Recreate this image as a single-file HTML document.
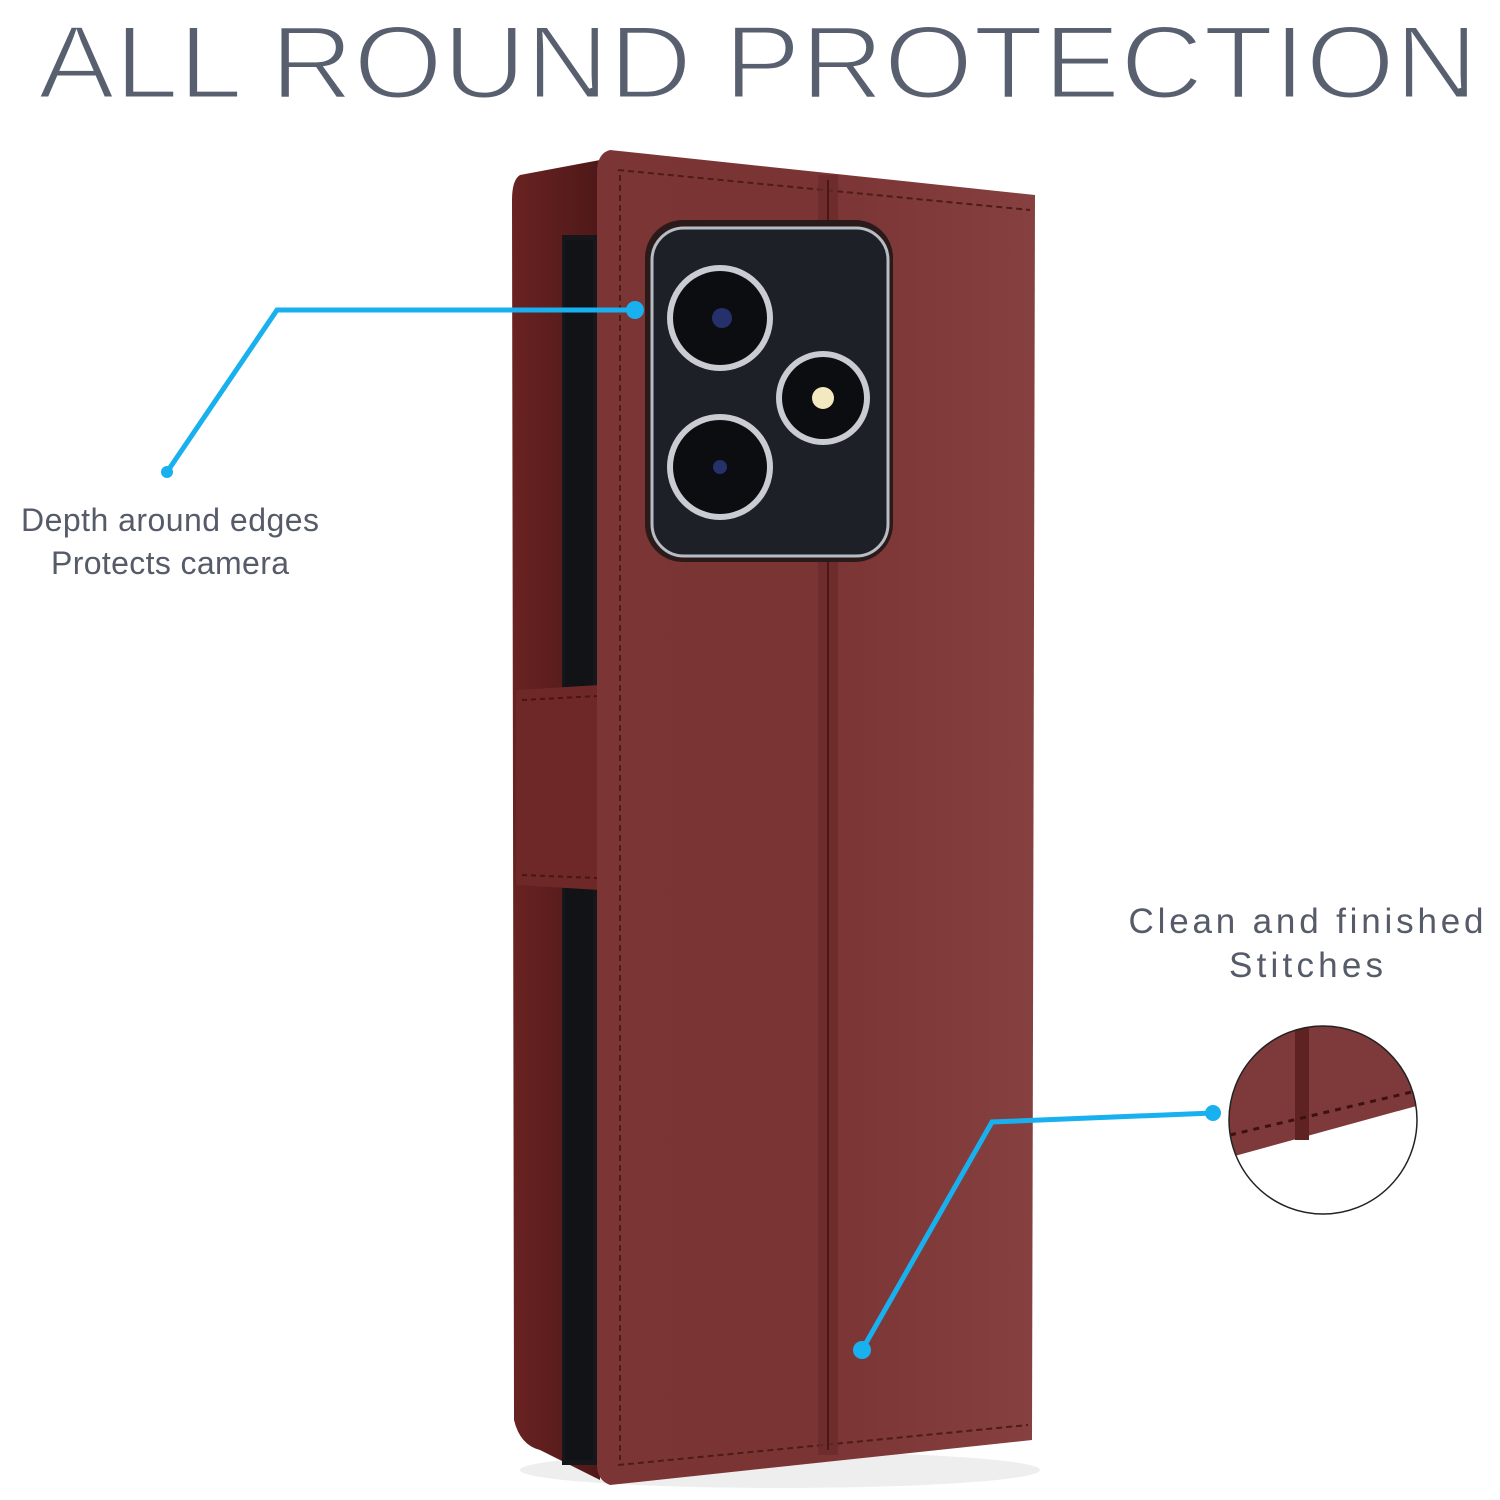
<!DOCTYPE html>
<html><head><meta charset="utf-8"><style>
html,body{margin:0;padding:0;background:#fff;}
svg{display:block}
</style></head><body>
<svg width="1500" height="1500" viewBox="0 0 1500 1500" xmlns="http://www.w3.org/2000/svg">
<defs>
<linearGradient id="cov" x1="0" x2="1" y1="0" y2="0">
<stop offset="0" stop-color="#7c3535"/><stop offset="0.5" stop-color="#7a3434"/><stop offset="1" stop-color="#864040"/>
</linearGradient>
<linearGradient id="spine" x1="0" x2="1">
<stop offset="0" stop-color="#6a2222"/><stop offset="1" stop-color="#4e1818"/>
</linearGradient>
<clipPath id="cc"><circle cx="1323" cy="1120" r="94"/></clipPath>
</defs>
<text x="38" y="98" font-family="Liberation Sans, sans-serif" font-size="104" fill="#585f6e" stroke="#fff" stroke-width="3" textLength="1440" lengthAdjust="spacingAndGlyphs">ALL ROUND PROTECTION</text>

<ellipse cx="780" cy="1470" rx="260" ry="18" fill="#eee"/>
<path d="M520 175 Q512 180 512 200 L514 1420 Q520 1445 540 1450 L600 1480 L600 160 Z" fill="url(#spine)"/>
<rect x="562" y="235" width="36" height="1230" fill="#15171b"/>
<rect x="565" y="240" width="28" height="1220" fill="#111316"/>
<path d="M516 690 L600 685 L600 890 L516 885 Z" fill="#6e2828"/>
<path d="M522 700 L598 696 M522 875 L598 878" stroke="#4a1414" stroke-width="2" stroke-dasharray="5 4"/>
<path d="M610 150 L1035 195 L1032 1440 L610 1485 Q597 1480 597 1465 L597 170 Q598 153 610 150 Z" fill="url(#cov)"/>
<path d="M618 170 L1030 210 M618 1465 L1028 1425 M620 175 L620 1460" stroke="#4e1a1a" stroke-width="2" stroke-dasharray="6 4" fill="none"/>
<rect x="818" y="175" width="20" height="1280" fill="#6a2a2a" opacity="0.7"/>
<line x1="828" y1="180" x2="828" y2="1450" stroke="#4a1616" stroke-width="2"/>
<rect x="645" y="220" width="248" height="342" rx="38" fill="#2a1a1a"/>
<rect x="652" y="228" width="236" height="328" rx="32" fill="#1d2127" stroke="#b8bcc4" stroke-width="3"/>
<circle cx="720" cy="318" r="53" fill="#c9ccd2"/><circle cx="720" cy="318" r="47" fill="#0c0d10"/>
<circle cx="722" cy="318" r="10" fill="#26306a"/>
<circle cx="823" cy="398" r="47" fill="#c9ccd2"/><circle cx="823" cy="398" r="41" fill="#0c0d10"/>
<circle cx="823" cy="398" r="11" fill="#f3e9c0"/>
<circle cx="720" cy="467" r="53" fill="#c9ccd2"/><circle cx="720" cy="467" r="47" fill="#0c0d10"/>
<circle cx="720" cy="467" r="7" fill="#26306a"/>
<polyline points="635,310 277,310 167,472" fill="none" stroke="#19b0ef" stroke-width="5"/>
<circle cx="635" cy="310" r="9" fill="#19b0ef"/><circle cx="167" cy="472" r="6" fill="#19b0ef"/>
<polyline points="1213,1113 992,1122 862,1350" fill="none" stroke="#19b0ef" stroke-width="5"/>
<circle cx="1213" cy="1113" r="8" fill="#19b0ef"/><circle cx="862" cy="1350" r="9" fill="#19b0ef"/>
<g clip-path="url(#cc)">
<path d="M1220 1020 L1420 1020 L1420 1105 L1220 1160 Z" fill="#7e3a3a"/>
<rect x="1295" y="1020" width="14" height="120" fill="#5e2222"/>
<line x1="1230" y1="1135" x2="1420" y2="1090" stroke="#3e1010" stroke-width="3" stroke-dasharray="6 6"/>
</g>
<circle cx="1323" cy="1120" r="94" fill="none" stroke="#222" stroke-width="1.5"/>
<g font-family="Liberation Sans, sans-serif" fill="#555b68" text-anchor="middle">
<text x="170" y="531" font-size="32" textLength="298" lengthAdjust="spacing">Depth around edges</text>
<text x="170" y="574" font-size="32" textLength="238" lengthAdjust="spacing">Protects camera</text>
<text x="1306" y="933" font-size="35" textLength="355" lengthAdjust="spacing">Clean and finished</text>
<text x="1306" y="977" font-size="35" textLength="154" lengthAdjust="spacing">Stitches</text>
</g>
</svg>
</body></html>
